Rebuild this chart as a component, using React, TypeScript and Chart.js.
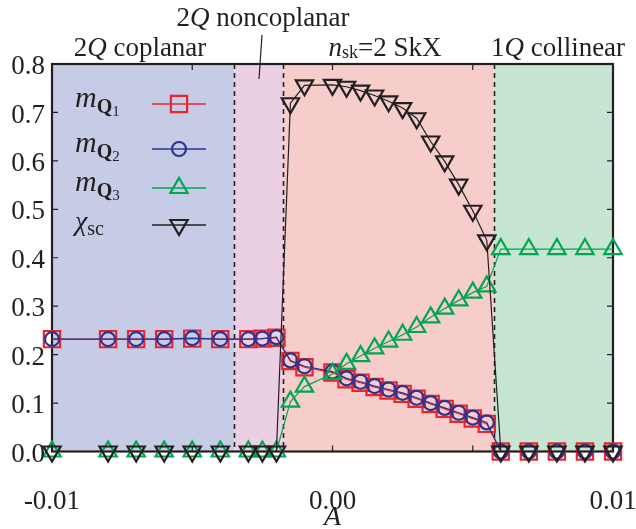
import React, { useEffect, useRef } from 'react';
import { Chart, registerables } from 'chart.js';

Chart.register(...registerables);

// ---- data ----
const aValues = [
  -0.01, -0.008, -0.007, -0.006, -0.005, -0.004, -0.003, -0.0025, -0.002,
  -0.0015, -0.001, 0, 0.0005, 0.001, 0.0015, 0.002, 0.0025, 0.003, 0.0035, 0.004, 0.0045, 0.005, 0.0055,
  0.006, 0.007, 0.008, 0.009, 0.01,
];
const mQ1 = [
  0.232, 0.232, 0.232, 0.232, 0.233, 0.232, 0.232, 0.233, 0.235,
  0.187, 0.174, 0.163, 0.149, 0.142, 0.133, 0.126, 0.119, 0.109, 0.098, 0.088, 0.078, 0.068, 0.057,
  0, 0, 0, 0, 0,
];
const mQ2 = [
  0.232, 0.232, 0.232, 0.232, 0.234, 0.232, 0.232, 0.233, 0.236,
  0.188, 0.176, 0.165, 0.151, 0.144, 0.135, 0.128, 0.121, 0.111, 0.1, 0.09, 0.08, 0.07, 0.06,
  0, 0, 0, 0, 0,
];
const mQ3 = [
  0, 0, 0, 0, 0, 0, 0, 0, 0,
  0.103, 0.134, 0.16, 0.181, 0.197, 0.213, 0.227, 0.241, 0.257, 0.277, 0.295, 0.312, 0.328, 0.341,
  0.418, 0.418, 0.418, 0.418, 0.418,
];
const chiSc = [
  0, 0, 0, 0, 0, 0, 0, 0, 0,
  0.719, 0.756, 0.757, 0.753, 0.745, 0.735, 0.723, 0.709, 0.688, 0.64, 0.599, 0.551, 0.497, 0.436,
  0, 0, 0, 0, 0,
];

const phaseEdges = [-0.01, -0.0035, -0.00175, 0.00575, 0.01];
const phaseColors = ['#c6cbe6', '#ebd0e3', '#f6cdcb', '#c6e5d3'];

const xTickValues = [-0.01, -0.005, 0, 0.005, 0.01];
const xTickLabels = ['-0.01', '', '0.00', '', '0.01'];
const yTickValues = [0, 0.1, 0.2, 0.3, 0.4, 0.5, 0.6, 0.7, 0.8];
const yTickLabels = ['0.0', '0.1', '0.2', '0.3', '0.4', '0.5', '0.6', '0.7', '0.8'];

const RED = '#e8262c';
const BLUE = '#2b3593';
const GREEN = '#00a651';
const BLACK = '#231f20';
const SERIF = "'Liberation Serif', 'DejaVu Serif', serif";

const R_RECT = 11.5;
const R_CIRC = 7;
const R_TRI = 10;
const MARK_W = 2.2;

type Seg = { t: string; f: string; dy?: number };

function segWidth(ctx: CanvasRenderingContext2D, segs: Seg[]) {
  let w = 0;
  for (const s of segs) {
    ctx.font = s.f;
    w += ctx.measureText(s.t).width;
  }
  return w;
}

function drawRich(ctx: CanvasRenderingContext2D, segs: Seg[], x: number, y: number, align: 'left' | 'center') {
  let cx = align === 'center' ? x - segWidth(ctx, segs) / 2 : x;
  ctx.textAlign = 'left';
  ctx.textBaseline = 'alphabetic';
  for (const s of segs) {
    ctx.font = s.f;
    ctx.fillText(s.t, cx, y + (s.dy || 0));
    cx += ctx.measureText(s.t).width;
  }
}

function marker(ctx: CanvasRenderingContext2D, kind: string, x: number, y: number, color: string) {
  ctx.save();
  ctx.strokeStyle = color;
  ctx.lineWidth = MARK_W;
  ctx.beginPath();
  if (kind === 'rect') {
    const s = Math.SQRT1_2 * R_RECT;
    ctx.rect(x - s, y - s, 2 * s, 2 * s);
  } else if (kind === 'circle') {
    ctx.arc(x, y, R_CIRC, 0, Math.PI * 2);
  } else {
    const r = R_TRI;
    const rot = kind === 'tdown' ? Math.PI : 0;
    for (let i = 0; i < 3; i++) {
      const a = rot + (i * 2 * Math.PI) / 3;
      const px = x + Math.sin(a) * r;
      const py = y - Math.cos(a) * r;
      if (i === 0) ctx.moveTo(px, py);
      else ctx.lineTo(px, py);
    }
    ctx.closePath();
  }
  ctx.stroke();
  ctx.restore();
}

const decorPlugin = {
  id: 'decor',
  beforeDatasetsDraw(chart: any) {
    const ctx: CanvasRenderingContext2D = chart.ctx;
    const xs = chart.scales.x;
    const ys = chart.scales.y;
    const { top, bottom, left, right } = chart.chartArea;
    ctx.save();
    for (let i = 0; i < phaseColors.length; i++) {
      const x0 = xs.getPixelForValue(phaseEdges[i]);
      const x1 = xs.getPixelForValue(phaseEdges[i + 1]);
      ctx.fillStyle = phaseColors[i];
      ctx.fillRect(x0, top, x1 - x0, bottom - top);
    }
    ctx.strokeStyle = BLACK;
    ctx.lineWidth = 1.6;
    ctx.setLineDash([5, 4]);
    for (let i = 1; i < phaseEdges.length - 1; i++) {
      const x = Math.round(xs.getPixelForValue(phaseEdges[i])) + 0.5;
      ctx.beginPath();
      ctx.moveTo(x, top);
      ctx.lineTo(x, bottom);
      ctx.stroke();
    }
    ctx.setLineDash([]);
    ctx.lineWidth = 1.2;
    const tl = 6;
    for (const v of xTickValues) {
      const x = xs.getPixelForValue(v);
      ctx.beginPath();
      ctx.moveTo(x, bottom);
      ctx.lineTo(x, bottom - tl);
      ctx.moveTo(x, top);
      ctx.lineTo(x, top + tl);
      ctx.stroke();
    }
    for (const v of yTickValues) {
      const y = ys.getPixelForValue(v);
      ctx.beginPath();
      ctx.moveTo(left, y);
      ctx.lineTo(left + tl, y);
      ctx.moveTo(right, y);
      ctx.lineTo(right - tl, y);
      ctx.stroke();
    }
    ctx.lineWidth = 2.2;
    ctx.strokeRect(left, top, right - left, bottom - top);
    ctx.restore();
  },
  afterDraw(chart: any) {
    const ctx: CanvasRenderingContext2D = chart.ctx;
    const xs = chart.scales.x;
    const ys = chart.scales.y;
    const { bottom, left } = chart.chartArea;
    ctx.save();
    ctx.fillStyle = BLACK;
    ctx.font = `27px ${SERIF}`;
    ctx.textAlign = 'center';
    ctx.textBaseline = 'middle';
    xTickValues.forEach((v, i) => {
      if (xTickLabels[i]) ctx.fillText(xTickLabels[i], xs.getPixelForValue(v), bottom + 50);
    });
    ctx.textAlign = 'right';
    yTickValues.forEach((v, i) => {
      ctx.fillText(yTickLabels[i], left - 7, ys.getPixelForValue(v) + 3);
    });
    ctx.font = `italic 28px ${SERIF}`;
    ctx.textAlign = 'center';
    ctx.fillText('A', xs.getPixelForValue(0), bottom + 66);

    const rf = `27px ${SERIF}`;
    const itf = `italic 27px ${SERIF}`;
    drawRich(ctx, [{ t: '2', f: rf }, { t: 'Q', f: itf }, { t: ' coplanar', f: rf }], 140, 56, 'center');
    drawRich(ctx, [{ t: '2', f: rf }, { t: 'Q', f: itf }, { t: ' noncoplanar', f: rf }], 263, 26, 'center');
    drawRich(ctx, [{ t: 'n', f: itf }, { t: 'sk', f: `18px ${SERIF}`, dy: 2 }, { t: '=2 SkX', f: rf }], 385, 56, 'center');
    drawRich(ctx, [{ t: '1', f: rf }, { t: 'Q', f: itf }, { t: ' collinear', f: rf }], 558, 56, 'center');
    ctx.strokeStyle = BLACK;
    ctx.lineWidth = 1.2;
    ctx.beginPath();
    ctx.moveTo(262, 35);
    ctx.lineTo(259, 79);
    ctx.stroke();

    const rows = [
      { y: 104, color: RED, kind: 'rect', sub: '1' },
      { y: 149, color: BLUE, kind: 'circle', sub: '2' },
      { y: 188, color: GREEN, kind: 'tup', sub: '3' },
      { y: 225, color: BLACK, kind: 'tdown', sub: '' },
    ];
    for (const r of rows) {
      ctx.strokeStyle = r.color;
      ctx.lineWidth = 1.5;
      ctx.beginPath();
      ctx.moveTo(152, r.y);
      ctx.lineTo(206, r.y);
      ctx.stroke();
      marker(ctx, r.kind, 179, r.y, r.color);
      ctx.fillStyle = BLACK;
      if (r.sub) {
        drawRich(
          ctx,
          [
            { t: 'm', f: `italic 30px ${SERIF}` },
            { t: 'Q', f: `bold 20px ${SERIF}`, dy: 6 },
            { t: r.sub, f: `15px ${SERIF}`, dy: 9 },
          ],
          75,
          r.y + 3,
          'left'
        );
      } else {
        drawRich(
          ctx,
          [
            { t: 'χ', f: `italic 28px ${SERIF}` },
            { t: 'sc', f: `20px ${SERIF}`, dy: 5 },
          ],
          75,
          r.y + 5,
          'left'
        );
      }
    }
    ctx.restore();
  },
};

function pts(ys: number[]) {
  return aValues.map((x, i) => ({ x, y: ys[i] }));
}

export default function App() {
  const ref = useRef<HTMLCanvasElement | null>(null);
  useEffect(() => {
    document.body.style.margin = '0';
    const canvas = ref.current;
    if (!canvas) return;
    const common = {
      borderWidth: 1.2,
      pointBorderWidth: MARK_W,
      pointBackgroundColor: 'rgba(0,0,0,0)',
      pointHoverRadius: 0,
      fill: false,
      tension: 0,
      clip: false as any,
    };
    const chart = new Chart(canvas, {
      type: 'line',
      data: {
        datasets: [
          { ...common, label: 'chi_sc', data: pts(chiSc), borderColor: BLACK, pointBorderColor: BLACK, pointStyle: 'triangle', pointRotation: 180, pointRadius: R_TRI, order: 0 },
          { ...common, label: 'm_Q3', data: pts(mQ3), borderColor: GREEN, pointBorderColor: GREEN, pointStyle: 'triangle', pointRadius: R_TRI, order: 1 },
          { ...common, label: 'm_Q2', data: pts(mQ2), borderColor: BLUE, pointBorderColor: BLUE, pointStyle: 'circle', pointRadius: R_CIRC, order: 2 },
          { ...common, label: 'm_Q1', data: pts(mQ1), borderColor: RED, pointBorderColor: RED, pointStyle: 'rect', pointRadius: R_RECT, order: 3 },
        ] as any,
      },
      options: {
        animation: false,
        responsive: false,
        maintainAspectRatio: false,
        events: [],
        layout: { padding: { left: 0, right: 23, top: 64, bottom: 0 } },
        plugins: { legend: { display: false }, tooltip: { enabled: false } },
        scales: {
          x: {
            type: 'linear',
            min: -0.01,
            max: 0.01,
            grid: { display: false },
            border: { display: false },
            ticks: { display: false, stepSize: 0.005 },
            afterFit: (s: any) => {
              s.height = 77.5;
            },
          },
          y: {
            type: 'linear',
            min: 0,
            max: 0.8,
            grid: { display: false },
            border: { display: false },
            ticks: { display: false, stepSize: 0.1 },
            afterFit: (s: any) => {
              s.width = 52;
            },
          },
        },
      } as any,
      plugins: [decorPlugin],
    });
    const fonts: any = (document as any).fonts;
    if (fonts && fonts.load) {
      Promise.all([
        fonts.load(`27px 'Liberation Serif'`),
        fonts.load(`italic 27px 'Liberation Serif'`),
        fonts.load(`bold 20px 'Liberation Serif'`),
      ])
        .then(() => chart.update())
        .catch(() => {});
    }
    return () => chart.destroy();
  }, []);
  return (
    <div style={{ width: 636, height: 529, fontFamily: "'Liberation Serif'" }}>
      <canvas ref={ref} width={636} height={529} style={{ display: 'block', width: 636, height: 529 }} />
    </div>
  );
}
